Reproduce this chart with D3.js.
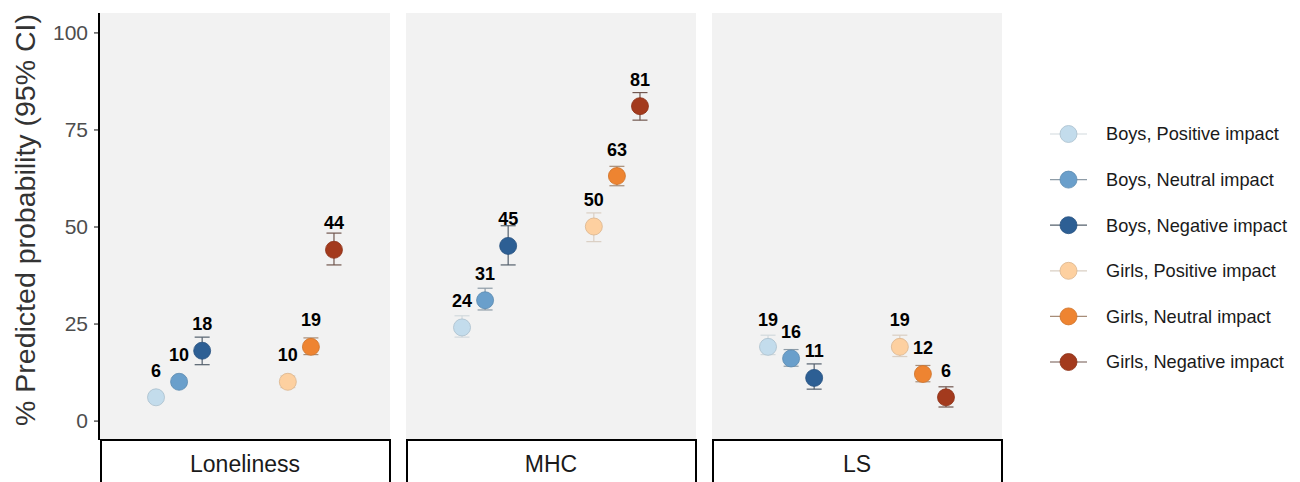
<!DOCTYPE html>
<html>
<head>
<meta charset="utf-8">
<script src="https://cdn.jsdelivr.net/npm/d3@7"></script>
<style>
  body { margin: 0; background: #fff; }
  text { font-family: "Liberation Sans", Arial, sans-serif; }
</style>
</head>
<body>
<script>
// data
var outcomes = ["Loneliness", "MHC", "LS"];
var genders = ["Boys", "Girls"];
var impacts = ["Positive impact", "Neutral impact", "Negative impact"];
var seriesNames = ["Boys, Positive impact", "Boys, Neutral impact", "Boys, Negative impact",
                   "Girls, Positive impact", "Girls, Neutral impact", "Girls, Negative impact"];
var colors = ["#c3dcec", "#6a9fcb", "#2d5f94", "#fdd0a0", "#ee8431", "#a33a1d"];

var estLoneliness = [6, 10, 18, 10, 19, 44];
var lowLoneliness = [5, 9, 14.4, 8.5, 17, 40.1];
var highLoneliness = [7, 11, 21.5, 11.5, 21.3, 48.3];

var estMHC = [24, 31, 45, 50, 63, 81];
var lowMHC = [21.5, 28.5, 40.1, 46.1, 60.5, 77.4];
var highMHC = [27, 34.1, 50.2, 53.5, 65.5, 84.5];

var estLS = [19, 16, 11, 19, 12, 6];
var lowLS = [17, 14, 8.1, 16.5, 10, 3.5];
var highLS = [22, 18.3, 14.6, 22, 14.2, 8.7];

var yTicks = [0, 25, 50, 75, 100];

var est = [estLoneliness, estMHC, estLS];
var low = [lowLoneliness, lowMHC, lowLS];
var high = [highLoneliness, highMHC, highLS];

// layout
var w = 1300, h = 482;
var panelW = 290, panelGap = 16, left = 100;
var yTop = 13, yBottom = 440;

var svg = d3.select("body").append("svg")
  .attr("width", w).attr("height", h);

var y = d3.scaleLinear().domain([-5, 105]).range([yBottom, yTop]);
var xg = d3.scalePoint().domain(genders).range([0, panelW]).padding(0.6);
var dodge = d3.scalePoint().domain(impacts).range([-0.175, 0.175]);

function mute(c) {
  var hc = d3.hsl(c);
  hc.s = hc.s * 0.25;
  return hc.formatHex();
}

var rows = [];
outcomes.forEach(function(o, p) {
  seriesNames.forEach(function(s, i) {
    rows.push({
      panel: p, series: i,
      gender: genders[Math.floor(i / 3)], impact: impacts[i % 3],
      est: est[p][i], lo: low[p][i], hi: high[p][i]
    });
  });
});

function px(d) {
  return left + d.panel * (panelW + panelGap) + xg(d.gender) + dodge(d.impact) * xg.step();
}

// panels
var panels = svg.selectAll("g.panel").data(outcomes).enter().append("g")
  .attr("transform", function(d, i) { return "translate(" + (left + i * (panelW + panelGap)) + ",0)"; });

panels.append("rect")
  .attr("x", 0).attr("y", yTop)
  .attr("width", panelW).attr("height", yBottom - yTop)
  .attr("fill", "#f2f2f2");

panels.append("rect")
  .attr("x", 1).attr("y", yBottom)
  .attr("width", panelW - 1).attr("height", 46)
  .attr("fill", "#fff").attr("stroke", "#000").attr("stroke-width", 2);

panels.append("text")
  .attr("x", panelW / 2).attr("y", 471.5)
  .attr("text-anchor", "middle")
  .attr("font-size", "23px").attr("fill", "#1a1a1a")
  .text(function(d) { return d; });

// y axis
var yAxis = svg.append("g").attr("transform", "translate(" + (left - 1) + ",0)")
  .call(d3.axisLeft(y).tickValues(yTicks).tickSize(5).tickPadding(6));
yAxis.select(".domain").remove();
yAxis.selectAll(".tick line").attr("stroke", "#333").attr("stroke-width", 1.2);
yAxis.selectAll(".tick text").attr("font-size", "21px").attr("fill", "#4d4d4d")
  .attr("font-family", "Liberation Sans, Arial, sans-serif");
svg.append("line")
  .attr("x1", left - 1).attr("x2", left - 1)
  .attr("y1", yTop).attr("y2", yBottom)
  .attr("stroke", "#000").attr("stroke-width", 2);

svg.append("text")
  .attr("transform", "translate(35," + ((5 + 435) / 2) + ") rotate(-90)")
  .attr("text-anchor", "middle")
  .attr("font-size", "28.5px").attr("fill", "#333")
  .text("% Predicted probability (95% CI)");

// error bars
var eb = svg.selectAll("g.eb").data(rows).enter().append("g")
  .attr("stroke", function(d) { return mute(colors[d.series]); })
  .attr("stroke-width", 1.2);
eb.append("line")
  .attr("x1", px).attr("x2", px)
  .attr("y1", function(d) { return y(d.lo); })
  .attr("y2", function(d) { return y(d.hi); });
eb.append("line")
  .attr("x1", function(d) { return px(d) - 7.5; })
  .attr("x2", function(d) { return px(d) + 7.5; })
  .attr("y1", function(d) { return y(d.lo); })
  .attr("y2", function(d) { return y(d.lo); });
eb.append("line")
  .attr("x1", function(d) { return px(d) - 7.5; })
  .attr("x2", function(d) { return px(d) + 7.5; })
  .attr("y1", function(d) { return y(d.hi); })
  .attr("y2", function(d) { return y(d.hi); });

// points
svg.selectAll("circle.pt").data(rows).enter().append("circle")
  .attr("cx", px)
  .attr("cy", function(d) { return y(d.est); })
  .attr("r", 8.5)
  .attr("fill", function(d) { return colors[d.series]; })
  .attr("stroke", function(d) { return d3.color(colors[d.series]).darker(0.4); })
  .attr("stroke-width", 0.8);

// value labels
svg.selectAll("text.lab").data(rows).enter().append("text")
  .attr("x", px)
  .attr("y", function(d) { return y(d.est) - 20.5; })
  .attr("text-anchor", "middle")
  .attr("font-size", "18px").attr("font-weight", "bold").attr("fill", "#000")
  .text(function(d) { return d.est; });

// legend
var leg = svg.selectAll("g.leg").data(seriesNames).enter().append("g")
  .attr("transform", function(d, i) { return "translate(1068.5," + (134 + i * 45.6) + ")"; });
leg.append("line")
  .attr("x1", -18.5).attr("x2", 18.5)
  .attr("stroke", function(d, i) { return mute(colors[i]); })
  .attr("stroke-width", 1.2);
leg.append("circle")
  .attr("r", 8.5)
  .attr("fill", function(d, i) { return colors[i]; })
  .attr("stroke", function(d, i) { return d3.color(colors[i]).darker(0.4); })
  .attr("stroke-width", 0.8);
leg.append("text")
  .attr("x", 37.5).attr("dy", "0.35em")
  .attr("font-size", "18.2px").attr("fill", "#1a1a1a")
  .text(function(d) { return d; });
</script>
</body>
</html>
